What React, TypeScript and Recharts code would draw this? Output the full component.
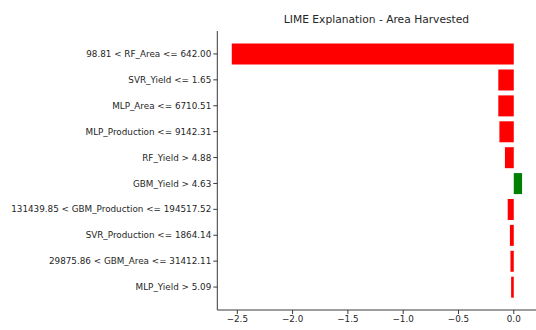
import React from "react";
import { BarChart, Bar, XAxis, YAxis, Cell } from "recharts";

const features: string[] = [
  "98.81 < RF_Area <= 642.00",
  "SVR_Yield <= 1.65",
  "MLP_Area <= 6710.51",
  "MLP_Production <= 9142.31",
  "RF_Yield > 4.88",
  "GBM_Yield > 4.63",
  "131439.85 < GBM_Production <= 194517.52",
  "SVR_Production <= 1864.14",
  "29875.86 < GBM_Area <= 31412.11",
  "MLP_Yield > 5.09",
];

const weights: number[] = [-2.55, -0.14, -0.14, -0.13, -0.08, 0.075, -0.055, -0.035, -0.03, -0.024];

const xTicks: number[] = [-2.5, -2.0, -1.5, -1.0, -0.5, 0.0];

const title = "LIME Explanation - Area Harvested";

const data = features.map((f, i) => ({ feature: f, weight: weights[i] }));

const FONT = "DejaVu Sans, sans-serif";
const TEXT = "#262626";
const AXIS = "#3a3a3a";
const TICK_FS = 8.8;

const fmt = (v: number) => (v < 0 ? "\u2212" + Math.abs(v).toFixed(1) : v.toFixed(1));

const YTick = (props: any) => {
  const { x, y, payload } = props;
  return (
    <text
      x={x}
      y={y}
      dy="0.355em"
      textAnchor="end"
      fontFamily={FONT}
      fontSize={TICK_FS}
      fill={TEXT}
    >
      {payload.value}
    </text>
  );
};

export default function App() {
  return (
    <div style={{ position: "absolute", left: 0, top: 0, width: 536, height: 330, overflow: "hidden", background: "#fff" }}>
      <div
        style={{
          position: "absolute",
          left: 217,
          width: 319,
          top: 12,
          textAlign: "center",
          fontFamily: FONT,
          fontSize: 10.7,
          color: TEXT,
          lineHeight: "16px",
          whiteSpace: "nowrap",
        }}
      >
        {title}
      </div>
      <BarChart
        width={537}
        height={330}
        data={data}
        layout="vertical"
        margin={{ top: 31, right: 0, bottom: 0, left: 0 }}
        barCategoryGap="10%"
      >
        <XAxis
          xAxisId="top"
          orientation="top"
          type="number"
          domain={[-2.681, 0.21]}
          allowDataOverflow
          tick={false}
          tickLine={false}
          height={0}
          axisLine={{ stroke: AXIS, strokeWidth: 1 }}
        />
        <XAxis
          type="number"
          domain={[-2.681, 0.21]}
          ticks={xTicks}
          allowDataOverflow
          tickFormatter={fmt}
          height={20}
          tickSize={4}
          tickMargin={2}
          axisLine={{ stroke: AXIS, strokeWidth: 1 }}
          tickLine={{ stroke: AXIS }}
          tick={{ fontFamily: FONT, fontSize: TICK_FS, fill: TEXT }}
        />
        <YAxis
          type="category"
          dataKey="feature"
          width={217.3}
          padding={{ top: 10, bottom: 10 }}
          tickSize={4}
          tickMargin={2}
          interval={0}
          axisLine={{ stroke: AXIS, strokeWidth: 1 }}
          tickLine={{ stroke: AXIS }}
          tick={YTick}
        />
        <Bar dataKey="weight" isAnimationActive={false}>
          {data.map((d, i) => (
            <Cell key={i} fill={d.weight < 0 ? "#ff0000" : "#008000"} />
          ))}
        </Bar>
      </BarChart>
    </div>
  );
}
